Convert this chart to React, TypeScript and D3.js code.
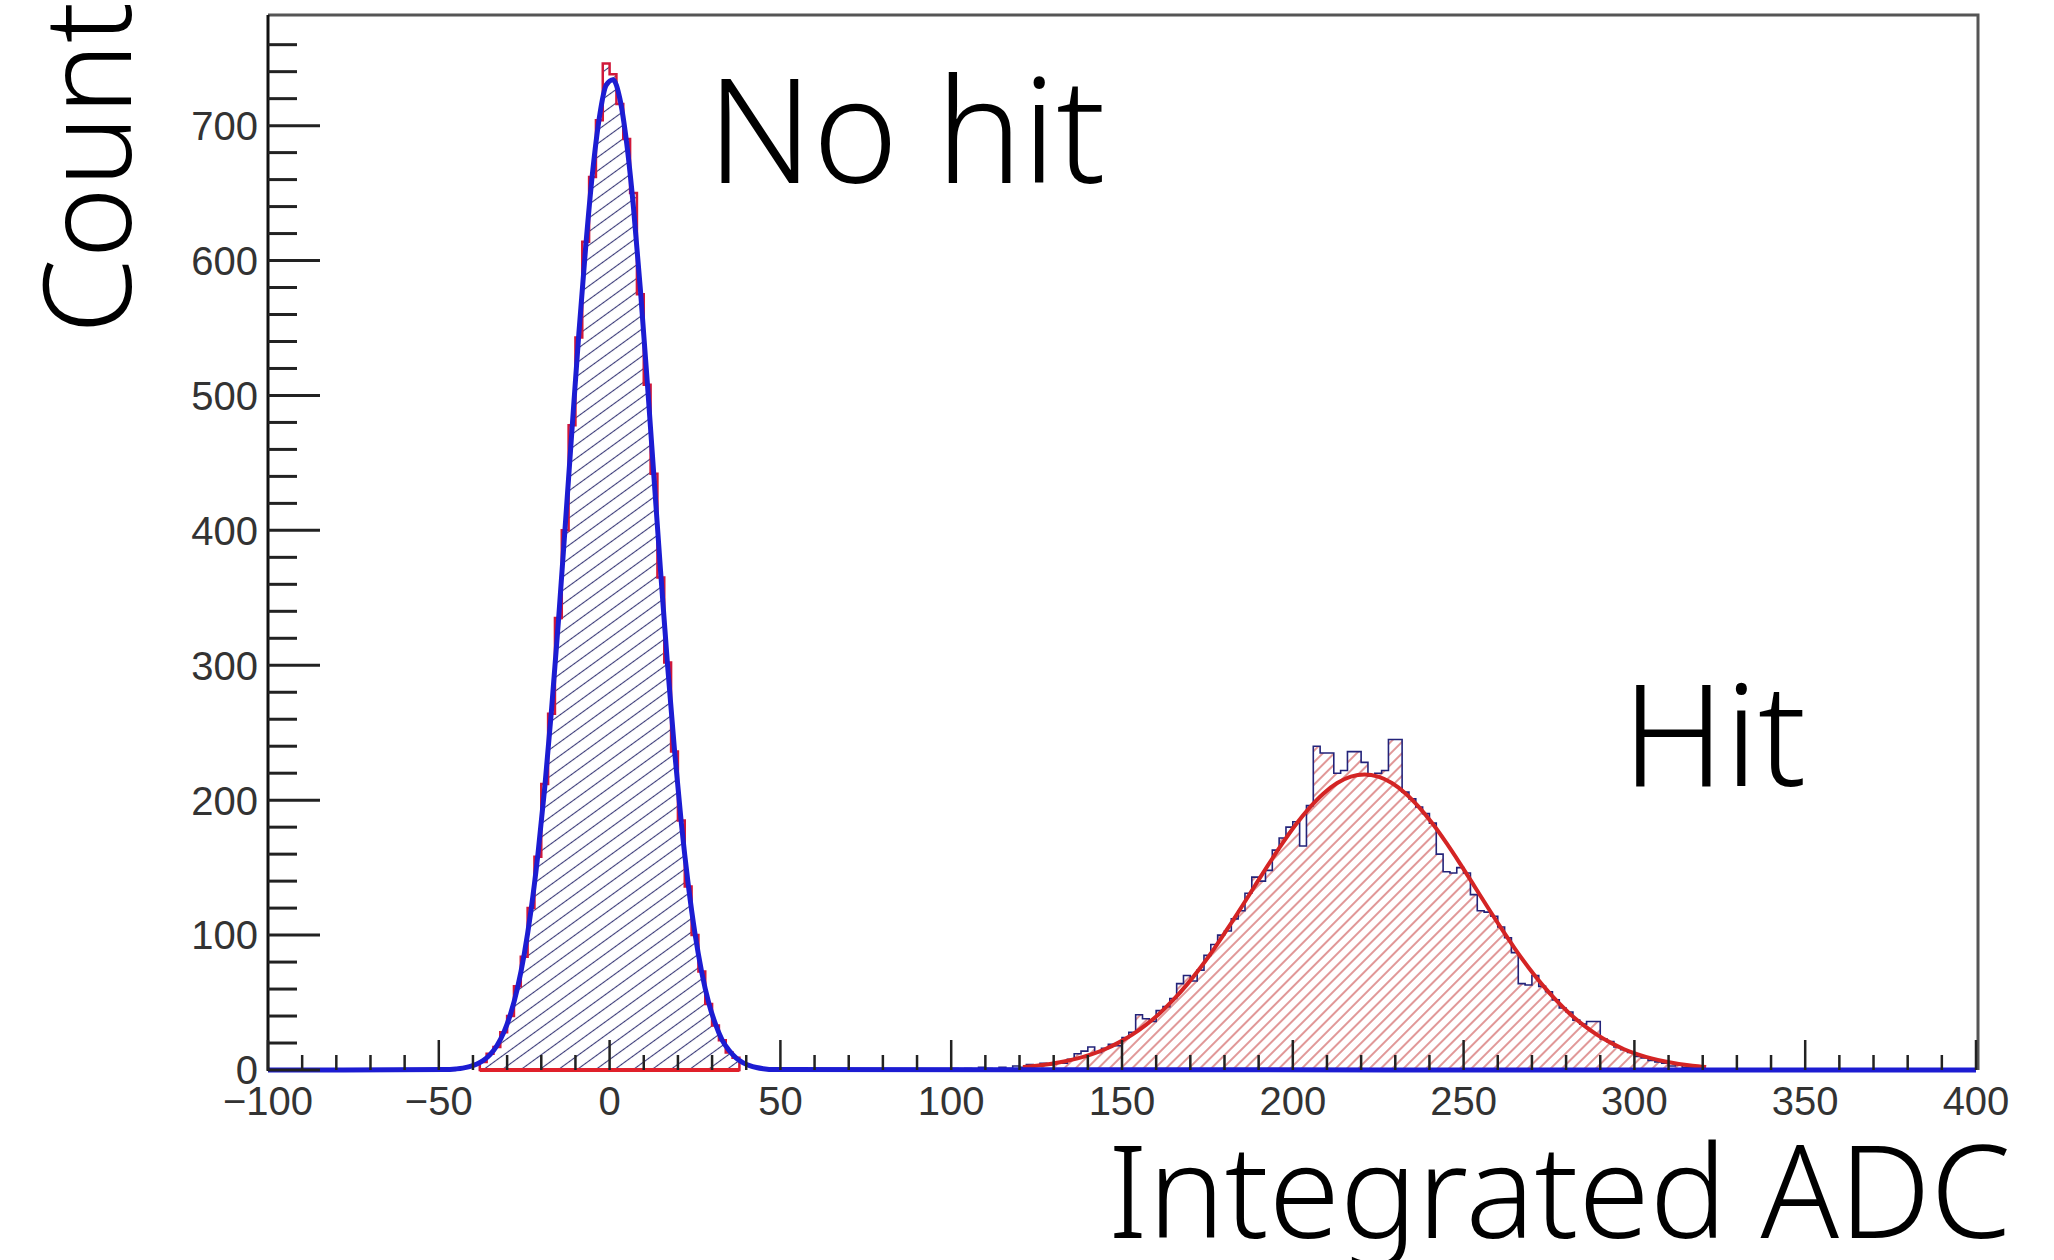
import React from "react";
import * as d3 from "d3";

const WIDTH = 2054;
const HEIGHT = 1260;
const PLOT = { left: 268, right: 1976, top: 15, bottom: 1070 };

// axis
const X_TICKS = [-100, -50, 0, 50, 100, 150, 200, 250, 300, 350, 400];
const Y_TICKS = [0, 100, 200, 300, 400, 500, 600, 700];
const X_MINOR_STEP = 10;
const Y_MINOR_STEP = 20;
const Y_MAX = 782;

// histograms (bin width 2 ADC)
const BIN_WIDTH = 2;
const NO_HIT_START = -38;
const NO_HIT_COUNTS = [
  6, 12, 17, 28, 40, 62, 84, 120, 158, 212, 264, 335, 400, 478, 543, 614, 662, 704, 746,
  738, 716, 690, 650, 575, 508, 442, 365, 302, 236, 185, 136, 100, 73, 49, 33, 22, 13, 9,
];
const HIT_START = 100;
const HIT_COUNTS = [
  1, 0, 1, 0, 2, 1, 0, 2, 1, 3, 2, 4, 3, 5, 4, 6, 5, 8, 12, 14,
  17, 13, 16, 19, 18, 24, 28, 41, 38, 36, 44, 47, 53, 64, 70, 66, 74, 85, 93, 100,
  103, 112, 118, 131, 143, 140, 148, 163, 172, 180, 184, 166, 196, 240, 235, 235, 220, 222, 236, 236,
  228, 218, 220, 222, 245, 245, 206, 201, 195, 190, 183, 160, 147, 146, 150, 146, 130, 118, 117, 114,
  106, 98, 87, 64, 63, 70, 62, 58, 52, 46, 43, 37, 34, 36, 36, 23, 21, 17, 15, 13,
  10, 9, 7, 6, 5, 3, 4, 2, 2, 1,
];

// fitted curves
const NO_HIT_FIT: [number, number][] = [
  [-100, 0], [-48, 0.3], [-45, 0.8], [-43, 1.4], [-41, 2.5], [-39, 4.2], [-37, 7], [-35, 11.4],
  [-33, 18], [-31, 27.7], [-29, 41.5], [-27, 60.4], [-25, 85.7], [-23, 118.5], [-21, 159.6],
  [-19, 209], [-17, 267], [-15, 332], [-13, 403], [-11, 475], [-9, 546], [-7, 610], [-5, 665],
  [-3, 706], [-1, 730], [1, 734], [3, 720], [5, 687], [7, 639], [9, 579], [11, 511], [13, 439],
  [15, 367], [17, 299], [19, 237], [21, 183], [23, 138], [25, 101], [27, 72], [29, 50], [31, 34],
  [33, 22], [35, 14.4], [37, 9], [39, 5.5], [41, 3.3], [43, 1.9], [45, 1], [48, 0.3], [400, 0],
];
const HIT_FIT: [number, number][] = [
  [121, 2.2], [125, 3.2], [129, 4.5], [133, 6.3], [137, 8.6], [141, 11.6], [145, 15.4], [149, 20.3],
  [153, 26.2], [157, 33.4], [161, 41.9], [165, 51.9], [169, 63.3], [173, 76], [177, 90],
  [181, 105.1], [185, 120.8], [189, 136.9], [193, 152.8], [197, 168.1], [201, 182.3], [205, 194.7],
  [209, 205], [213, 212.7], [217, 217.4], [221, 219], [225, 217.4], [229, 212.7], [233, 205],
  [237, 194.7], [241, 182.3], [245, 168.1], [249, 152.8], [253, 136.9], [257, 120.8], [261, 105.1],
  [265, 90], [269, 76], [273, 63.3], [277, 51.9], [281, 41.9], [285, 33.4], [289, 26.2], [293, 20.3],
  [297, 15.4], [301, 11.6], [305, 8.6], [309, 6.3], [313, 4.5], [317, 3.2], [321, 2.2],
];

const fmt = (v: number) => String(v).replace("-", "\u2212");

const toBins = (start: number, counts: number[]): [number, number][] => {
  const pts: [number, number][] = [[start, 0]];
  counts.forEach((c, i) => pts.push([start + i * BIN_WIDTH, c]));
  const end = start + counts.length * BIN_WIDTH;
  pts.push([end, counts[counts.length - 1]]);
  pts.push([end, 0]);
  return pts;
};

const LABEL_FONT = "Liberation Sans, Arial, sans-serif";
const TITLE_FONT = "Noto Sans, sans-serif";

export default function App() {
  const x = d3.scaleLinear().domain([X_TICKS[0], X_TICKS[X_TICKS.length - 1]]).range([PLOT.left, PLOT.right]);
  const y = d3.scaleLinear().domain([0, Y_MAX]).range([PLOT.bottom, PLOT.top]);

  const histArea = d3
    .area<[number, number]>()
    .x((d) => x(d[0]))
    .y0(y(0))
    .y1((d) => y(d[1]))
    .curve(d3.curveStepAfter);

  const fitLine = d3
    .line<[number, number]>()
    .x((d) => x(d[0]))
    .y((d) => y(d[1]))
    .curve(d3.curveMonotoneX);

  const noHitBins = toBins(NO_HIT_START, NO_HIT_COUNTS);
  const hitBins = toBins(HIT_START, HIT_COUNTS);
  const noHitEnd = NO_HIT_START + NO_HIT_COUNTS.length * BIN_WIDTH;

  const xMinor = d3.range(X_TICKS[0], X_TICKS[X_TICKS.length - 1] + 1, X_MINOR_STEP).filter((v) => v % 50 !== 0);
  const yMinor = d3.range(0, Y_MAX - 15, Y_MINOR_STEP).filter((v) => v % 100 !== 0);

  return (
    <svg
      width={WIDTH}
      height={HEIGHT}
      style={{ position: "absolute", left: 0, top: 0, display: "block", background: "#fff" }}
    >
      <defs>
        <pattern id="hatch-red" patternUnits="userSpaceOnUse" width={8} height={8} patternTransform="rotate(-45)">
          <line x1={0} y1={4} x2={8} y2={4} stroke="#cc5252" strokeWidth={1.2} />
        </pattern>
        <pattern id="hatch-blue" patternUnits="userSpaceOnUse" width={11} height={11} patternTransform="rotate(-36)">
          <line x1={0} y1={5.5} x2={11} y2={5.5} stroke="#3a3a78" strokeWidth={1.1} />
        </pattern>
      </defs>

      {/* histograms */}
      <path d={histArea(hitBins) ?? ""} fill="url(#hatch-red)" stroke="#23237a" strokeWidth={1.6} />
      <path d={histArea(noHitBins) ?? ""} fill="url(#hatch-blue)" stroke="#d0183a" strokeWidth={2.5} />

      {/* fits */}
      <path d={fitLine(HIT_FIT) ?? ""} fill="none" stroke="#d42424" strokeWidth={4} />
      <path d={fitLine(NO_HIT_FIT) ?? ""} fill="none" stroke="#1c1cd2" strokeWidth={5} />
      <line x1={x(NO_HIT_START)} x2={x(noHitEnd)} y1={y(0)} y2={y(0)} stroke="#e0202a" strokeWidth={4} />

      {/* frame */}
      <path
        d={`M${PLOT.left},${PLOT.top}H${PLOT.right + 2}V${PLOT.bottom}`}
        fill="none"
        stroke="#555"
        strokeWidth={3}
      />
      <line x1={PLOT.left} x2={PLOT.left} y1={PLOT.top} y2={PLOT.bottom + 1} stroke="#111" strokeWidth={3} />

      {/* y ticks */}
      {Y_TICKS.map((v) => (
        <g key={`yt${v}`}>
          <line x1={PLOT.left} x2={PLOT.left + 52} y1={y(v)} y2={y(v)} stroke="#222" strokeWidth={3} />
          <text x={PLOT.left - 10} y={y(v)} dy="0.36em" textAnchor="end" fontFamily={LABEL_FONT} fontSize={40} fill="#333">
            {fmt(v)}
          </text>
        </g>
      ))}
      {yMinor.map((v) => (
        <line key={`ym${v}`} x1={PLOT.left} x2={PLOT.left + 29} y1={y(v)} y2={y(v)} stroke="#222" strokeWidth={3} />
      ))}

      {/* x ticks */}
      {X_TICKS.map((v) => (
        <g key={`xt${v}`}>
          <line x1={x(v)} x2={x(v)} y1={PLOT.bottom} y2={PLOT.bottom - 30} stroke="#222" strokeWidth={2.5} />
          <text x={x(v)} y={1115} textAnchor="middle" fontFamily={LABEL_FONT} fontSize={40} fill="#333">
            {fmt(v)}
          </text>
        </g>
      ))}
      {xMinor.map((v) => (
        <line key={`xm${v}`} x1={x(v)} x2={x(v)} y1={PLOT.bottom} y2={PLOT.bottom - 15} stroke="#222" strokeWidth={2.5} />
      ))}

      {/* annotations */}
      <text x={707} y={183} fontFamily={TITLE_FONT} fontWeight={300} fontSize={145} fill="#000">
        No hit
      </text>
      <text x={1622} y={786} fontFamily={TITLE_FONT} fontWeight={300} fontSize={142} fill="#000">
        Hit
      </text>
      <text x={2011} y={1238} textAnchor="end" fontFamily={TITLE_FONT} fontWeight={300} fontSize={129} fill="#000">
        Integrated ADC
      </text>
      <text transform="translate(131,334) rotate(-90)" fontFamily={TITLE_FONT} fontWeight={300} fontSize={121} fill="#000">
        Count
      </text>
    </svg>
  );
}
